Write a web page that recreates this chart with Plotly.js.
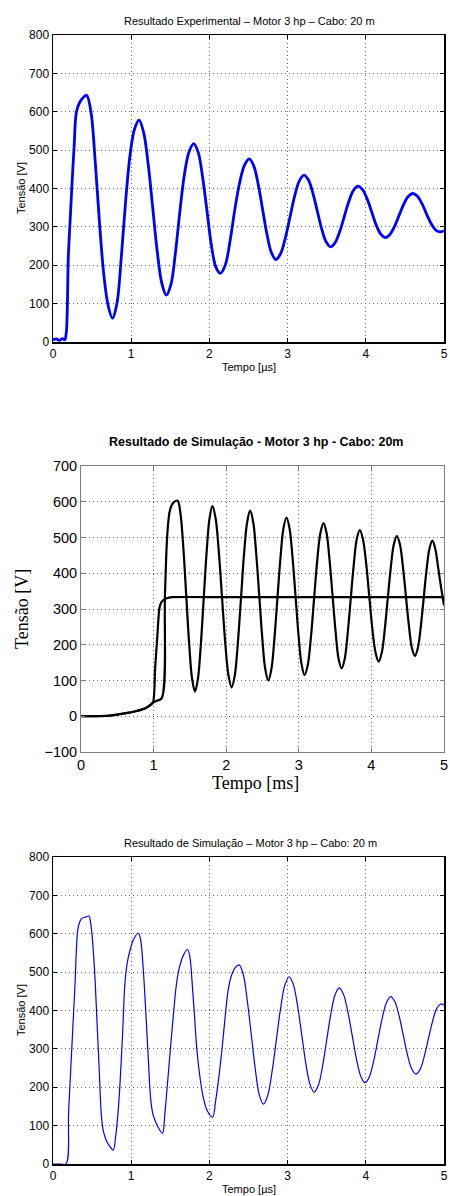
<!DOCTYPE html>
<html>
<head>
<meta charset="utf-8">
<script src="https://cdn.plot.ly/plotly-3.0.1.min.js"></script>
<style>
  html, body { margin: 0; padding: 0; background: #fff; }
  #chart { width: 450px; height: 1196px; }
</style>
</head>
<body>
<div id="chart"></div>
<script>
// Experimental voltage at the motor terminals (µs, V)
const expTime = [0, 0.04, 0.08, 0.12, 0.15, 0.17, 0.196, 0.22, 0.239, 0.27, 0.30, 0.345, 0.39, 0.43,
  0.485, 0.54, 0.595, 0.65, 0.705, 0.76,
  0.817, 0.873, 0.93, 0.987, 1.043, 1.10,
  1.158, 1.217, 1.275, 1.333, 1.392, 1.45,
  1.508, 1.567, 1.625, 1.683, 1.742, 1.80,
  1.857, 1.913, 1.97, 2.027, 2.083, 2.14,
  2.202, 2.263, 2.325, 2.387, 2.448, 2.51,
  2.567, 2.623, 2.68, 2.737, 2.793, 2.85,
  2.91, 2.97, 3.03, 3.09, 3.15, 3.21,
  3.267, 3.323, 3.38, 3.437, 3.493, 3.55,
  3.608, 3.667, 3.725, 3.783, 3.842, 3.90,
  3.958, 4.017, 4.075, 4.133, 4.192, 4.25,
  4.308, 4.367, 4.425, 4.483, 4.542, 4.60,
  4.66, 4.72, 4.78, 4.84, 4.90, 4.95, 5.0];
const expVolt = [5, 8, 4, 9, 6, 25, 222, 320, 396, 509, 600, 626, 638, 643,
  600, 470, 310, 175, 95, 62,
  100, 220, 370, 490, 555, 578,
  547, 464, 350, 236, 153, 122,
  150, 235, 345, 440, 497, 517,
  494, 430, 340, 250, 195, 179,
  200, 262, 345, 415, 460, 477,
  459, 412, 346, 280, 233, 215,
  230, 270, 325, 380, 420, 435,
  422, 388, 341, 294, 261, 248,
  259, 288, 327, 366, 395, 406,
  397, 373, 339, 305, 281, 272,
  280, 301, 330, 358, 379, 387,
  380, 360, 332, 307, 291, 287, 290];

// Simulated source step (ms, V)
const simStepTime = [0, 0.2, 0.4, 0.6, 0.75, 0.9, 0.99, 1.02, 1.05, 1.08, 1.11, 1.18, 1.26, 2, 3, 4, 5];
const simStepVolt = [0, 0.5, 2, 8, 14, 24, 38, 130, 220, 302, 320, 330, 333, 333, 333, 333, 333];

// Simulated motor terminal voltage (ms, V)
const simMotorTime = [0, 0.2, 0.4, 0.6, 0.75, 0.9, 0.99, 1.05, 1.11, 1.157, 1.19, 1.226, 1.27, 1.33,
  1.37, 1.41, 1.45, 1.49, 1.53, 1.57,
  1.61, 1.65, 1.69, 1.73, 1.77, 1.81,
  1.854, 1.898, 1.942, 1.986, 2.031, 2.075,
  2.118, 2.16, 2.203, 2.245, 2.288, 2.33,
  2.372, 2.413, 2.455, 2.497, 2.538, 2.58,
  2.622, 2.663, 2.705, 2.747, 2.788, 2.83,
  2.872, 2.913, 2.955, 2.997, 3.038, 3.08,
  3.123, 3.167, 3.21, 3.253, 3.297, 3.34,
  3.382, 3.423, 3.465, 3.507, 3.548, 3.59,
  3.632, 3.673, 3.715, 3.757, 3.798, 3.84,
  3.883, 3.927, 3.97, 4.013, 4.057, 4.10,
  4.142, 4.183, 4.225, 4.267, 4.308, 4.35,
  4.392, 4.433, 4.475, 4.517, 4.558, 4.60,
  4.64, 4.68, 4.72, 4.76, 4.80, 4.84,
  4.88, 4.92, 4.96, 5.0];
const simMotorVolt = [0, 0.5, 2, 8, 14, 24, 38, 44, 50, 344, 512, 577, 597, 603,
  567, 470, 336, 203, 105, 69,
  104, 199, 328, 458, 553, 588,
  554, 461, 334, 208, 115, 81,
  114, 204, 328, 452, 542, 575,
  543, 456, 338, 219, 132, 100,
  131, 214, 328, 442, 525, 556,
  526, 446, 336, 225, 145, 115,
  143, 221, 328, 434, 512, 540,
  513, 438, 337, 236, 161, 134,
  160, 231, 328, 424, 495, 521,
  496, 429, 337, 245, 178, 153,
  177, 241, 329, 416, 480, 504,
  482, 420, 337, 253, 191, 169,
  191, 250, 330, 410, 469, 491,
  468, 415, 360, 310];

// Simulated voltage at the motor terminals (µs, V)
const sim3Time = [0, 0.1, 0.166, 0.20, 0.24, 0.28, 0.316, 0.34, 0.367, 0.41, 0.46,
  0.48, 0.50, 0.53, 0.56, 0.59, 0.62, 0.645, 0.68, 0.72, 0.77,
  0.80, 0.83, 0.857, 0.89, 0.92, 0.95, 0.985, 1.03, 1.09,
  1.12, 1.15, 1.19, 1.22, 1.25, 1.28, 1.32, 1.36, 1.40,
  1.43, 1.46, 1.50, 1.54, 1.58, 1.62, 1.67, 1.72,
  1.75, 1.78, 1.81, 1.84, 1.88, 1.92, 1.97, 2.04,
  2.08, 2.12, 2.16, 2.20, 2.24, 2.28, 2.33, 2.38,
  2.432, 2.483, 2.535, 2.587, 2.638, 2.69,
  2.745, 2.80, 2.855, 2.91, 2.965, 3.02,
  3.073, 3.127, 3.18, 3.233, 3.287, 3.34,
  3.393, 3.447, 3.50, 3.553, 3.607, 3.66,
  3.715, 3.77, 3.825, 3.88, 3.935, 3.99,
  4.045, 4.10, 4.155, 4.21, 4.265, 4.32,
  4.373, 4.427, 4.48, 4.533, 4.587, 4.64,
  4.693, 4.747, 4.80, 4.853, 4.907, 4.96, 5.0];
const sim3Volt = [0, 0, 0, 138, 300, 462, 609, 630, 640, 643, 646,
  630, 595, 510, 384, 250, 123, 85, 62, 48, 36,
  70, 130, 210, 340, 471, 525, 557, 585, 602,
  585, 520, 384, 270, 167, 128, 106, 90, 80,
  130, 200, 297, 390, 471, 515, 545, 559,
  540, 470, 385, 297, 225, 175, 140, 122,
  165, 225, 297, 380, 453, 490, 512, 519,
  495, 428, 338, 247, 180, 156,
  178, 239, 322, 405, 466, 488,
  468, 413, 338, 262, 207, 187,
  205, 255, 323, 391, 441, 459,
  442, 397, 336, 274, 229, 212,
  227, 268, 324, 380, 421, 436,
  422, 385, 335, 284, 248, 234,
  246, 280, 326, 371, 405, 417, 414];

const W = 450, H = 1196;
const px = x => x / W;
const py = y => 1 - y / H;

const sans = 'Liberation Sans, Arial, Helvetica, sans-serif';
const serif = 'Liberation Serif, Times New Roman, serif';

const traces = [
  { x: expTime, y: expVolt, xaxis: 'x', yaxis: 'y', type: 'scatter', mode: 'lines',
    line: { color: '#0000ff', width: 2.8, shape: 'spline', smoothing: 1 }, hoverinfo: 'skip' },
  { x: simStepTime, y: simStepVolt, xaxis: 'x2', yaxis: 'y2', type: 'scatter', mode: 'lines',
    line: { color: '#000000', width: 2.2, shape: 'spline', smoothing: 0.6 }, hoverinfo: 'skip' },
  { x: simMotorTime, y: simMotorVolt, xaxis: 'x2', yaxis: 'y2', type: 'scatter', mode: 'lines',
    line: { color: '#000000', width: 2.2, shape: 'spline', smoothing: 1 }, hoverinfo: 'skip' },
  { x: sim3Time, y: sim3Volt, xaxis: 'x3', yaxis: 'y3', type: 'scatter', mode: 'lines',
    line: { color: '#0000ff', width: 1.2, shape: 'spline', smoothing: 1 }, hoverinfo: 'skip' }
];

function axisStyle(opts) {
  return Object.assign({
    showline: true, linecolor: '#000', linewidth: 1.5, mirror: 'ticks',
    ticks: 'inside', ticklen: 4, tickcolor: '#000', tickwidth: 1,
    showgrid: true, gridcolor: '#666', gridwidth: 1, griddash: '1px,3px',
    zeroline: false, fixedrange: true,
    tickfont: { family: sans, size: 12, color: '#000' }
  }, opts);
}

const layout = {
  width: W, height: H,
  margin: { l: 0, r: 0, t: 0, b: 0 },
  paper_bgcolor: '#fff', plot_bgcolor: '#fff',
  showlegend: false,
  xaxis: axisStyle({ domain: [px(53), px(444)], anchor: 'y', range: [0, 5], dtick: 1 }),
  yaxis: axisStyle({ domain: [py(342), py(35)], anchor: 'x', range: [0, 800], dtick: 100 }),
  xaxis2: axisStyle({ domain: [px(81), px(444)], anchor: 'y2', range: [0, 5], dtick: 1,
    linecolor: '#808080', linewidth: 1, tickcolor: '#808080',
    tickfont: { family: sans, size: 14.5, color: '#000' } }),
  yaxis2: axisStyle({ domain: [py(752), py(466)], anchor: 'x2', range: [-100, 700], dtick: 100,
    linecolor: '#808080', linewidth: 1, tickcolor: '#808080',
    tickfont: { family: sans, size: 14.5, color: '#000' } }),
  xaxis3: axisStyle({ domain: [px(53), px(444)], anchor: 'y3', range: [0, 5], dtick: 1 }),
  yaxis3: axisStyle({ domain: [py(1164), py(857)], anchor: 'x3', range: [0, 800], dtick: 100 }),
  annotations: [
    { text: 'Resultado Experimental – Motor 3 hp – Cabo: 20 m', x: px(249), y: py(21),
      font: { family: sans, size: 11, color: '#000' } },
    { text: 'Tempo [µs]', x: px(249), y: py(367), font: { family: sans, size: 11, color: '#000' } },
    { text: 'Tensão [V]', x: px(21), y: py(188), textangle: -90, font: { family: sans, size: 11, color: '#000' } },
    { text: '<b>Resultado de Simulação - Motor 3 hp - Cabo: 20m</b>', x: px(256), y: py(442),
      font: { family: sans, size: 12.5, color: '#000' } },
    { text: 'Tempo [ms]', x: px(255), y: py(783), font: { family: serif, size: 18, color: '#000' } },
    { text: 'Tensão [V]', x: px(22), y: py(609), textangle: -90, font: { family: serif, size: 18, color: '#000' } },
    { text: 'Resultado de Simulação – Motor 3 hp – Cabo: 20 m', x: px(250), y: py(843),
      font: { family: sans, size: 11, color: '#000' } },
    { text: 'Tempo [µs]', x: px(249), y: py(1189), font: { family: sans, size: 11, color: '#000' } },
    { text: 'Tensão [V]', x: px(21), y: py(1010), textangle: -90, font: { family: sans, size: 11, color: '#000' } }
  ].map(a => Object.assign({ xref: 'paper', yref: 'paper', xanchor: 'center', yanchor: 'middle', showarrow: false }, a))
};

Plotly.newPlot('chart', traces, layout, { staticPlot: true, displayModeBar: false });
</script>
</body>
</html>
